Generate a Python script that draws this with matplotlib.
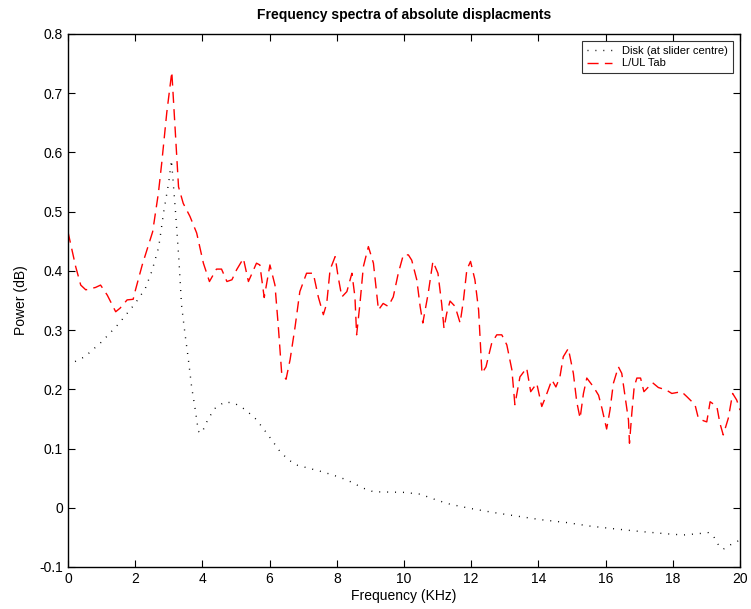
import matplotlib
matplotlib.use("Agg")
import matplotlib.pyplot as plt

plt.rcParams['font.family'] = ['Liberation Sans', 'DejaVu Sans']
plt.rcParams['axes.unicode_minus'] = False

# Disk (at slider centre) - black dotted
disk_x = [0.0, 0.5, 1.0, 1.5, 2.0, 2.3, 2.5, 2.7, 2.85, 3.0, 3.08, 3.2, 3.3, 3.38, 3.48, 3.58,
          3.68, 3.79, 3.88, 3.98, 4.18, 4.38, 4.67, 4.97, 5.27, 5.57, 5.81, 6.07, 6.31, 6.56,
          6.81, 7.15, 7.55, 7.9, 8.3, 8.79, 9.09, 9.98, 10.48, 10.97, 11.37, 11.96, 12.66,
          13.35, 14.05, 14.84, 15.54, 16.33, 17.02, 17.82, 18.31, 18.71, 19.06, 19.21, 19.36,
          19.5, 19.7, 19.9, 20.0]
disk_y = [0.241, 0.255, 0.28, 0.31, 0.345, 0.37, 0.40, 0.44, 0.50, 0.55, 0.587, 0.50, 0.42,
          0.342, 0.295, 0.252, 0.204, 0.165, 0.129, 0.126, 0.151, 0.168, 0.179, 0.176, 0.166,
          0.151, 0.134, 0.114, 0.095, 0.081, 0.072, 0.067, 0.061, 0.055, 0.047, 0.033, 0.027,
          0.026, 0.023, 0.013, 0.006, -0.001, -0.008, -0.014, -0.02, -0.025, -0.031, -0.036,
          -0.04, -0.044, -0.046, -0.044, -0.042, -0.048, -0.063, -0.07, -0.063, -0.057, -0.055]

# L/UL Tab - red dashed
tab_x = [0.0, 0.23, 0.38, 0.53, 0.82, 0.97, 1.17, 1.42, 1.55, 1.76, 1.94, 2.01, 2.21, 2.32,
         2.52, 2.69, 2.79, 2.94, 3.09, 3.19, 3.29, 3.43, 3.63, 3.83, 4.03, 4.21, 4.42, 4.57,
         4.73, 4.88, 5.02, 5.22, 5.37, 5.61, 5.71, 5.84, 6.01, 6.16, 6.26, 6.36, 6.49, 6.61,
         6.76, 6.9, 7.1, 7.3, 7.45, 7.6, 7.7, 7.8, 7.95, 8.04, 8.15, 8.3, 8.45, 8.54, 8.59,
         8.69, 8.79, 8.94, 9.09, 9.24, 9.38, 9.53, 9.68, 9.83, 9.98, 10.13, 10.23, 10.38,
         10.48, 10.56, 10.72, 10.86, 11.01, 11.12, 11.19, 11.27, 11.37, 11.52, 11.67, 11.77,
         11.87, 11.98, 12.11, 12.22, 12.32, 12.44, 12.61, 12.76, 12.91, 13.06, 13.21, 13.3,
         13.45, 13.65, 13.77, 13.95, 14.1, 14.22, 14.4, 14.52, 14.64, 14.74, 14.89, 15.04,
         15.14, 15.24, 15.34, 15.44, 15.64, 15.79, 15.89, 16.03, 16.13, 16.23, 16.38, 16.48,
         16.58, 16.68, 16.71, 16.78, 16.85, 16.93, 17.04, 17.14, 17.24, 17.4, 17.57, 17.8,
         17.97, 18.26, 18.41, 18.66, 18.76, 18.91, 19.01, 19.11, 19.31, 19.4, 19.5, 19.65,
         19.78, 19.9, 20.0]
tab_y = [0.466, 0.407, 0.376, 0.368, 0.372, 0.376, 0.359, 0.331, 0.337, 0.351, 0.352, 0.368,
         0.41, 0.43, 0.466, 0.531, 0.582, 0.667, 0.736, 0.638, 0.542, 0.514, 0.492, 0.464,
         0.413, 0.382, 0.403, 0.403, 0.382, 0.385, 0.402, 0.421, 0.382, 0.413, 0.41, 0.355,
         0.41, 0.376, 0.306, 0.227, 0.217, 0.25, 0.306, 0.365, 0.396, 0.396, 0.356, 0.326,
         0.345, 0.402, 0.424, 0.39, 0.356, 0.365, 0.396, 0.356, 0.292, 0.345, 0.407, 0.441,
         0.413, 0.334, 0.345, 0.34, 0.356, 0.396, 0.427, 0.427, 0.418, 0.385, 0.34, 0.312,
         0.362, 0.416, 0.396, 0.345, 0.303, 0.328, 0.349, 0.34, 0.312, 0.351, 0.402, 0.416,
         0.385, 0.334, 0.227, 0.238, 0.278, 0.292, 0.292, 0.275, 0.233, 0.174, 0.221, 0.236,
         0.196, 0.21, 0.171, 0.188, 0.216, 0.204, 0.221, 0.255, 0.269, 0.227, 0.179, 0.151,
         0.193, 0.219, 0.204, 0.19, 0.168, 0.133, 0.165, 0.21, 0.238, 0.227, 0.188, 0.148,
         0.109, 0.16, 0.204, 0.219, 0.219, 0.196, 0.202, 0.211, 0.203, 0.199, 0.193, 0.196,
         0.188, 0.174, 0.151, 0.147, 0.145, 0.179, 0.171, 0.143, 0.123, 0.151, 0.193, 0.182,
         0.165]

x_ticks = [0, 2, 4, 6, 8, 10, 12, 14, 16, 18, 20]
y_ticks = [-0.1, 0.0, 0.1, 0.2, 0.3, 0.4, 0.5, 0.6, 0.7, 0.8]
y_tick_labels = ["-0.1", "0", "0.1", "0.2", "0.3", "0.4", "0.5", "0.6", "0.7", "0.8"]

fig = plt.figure(figsize=(7.51, 6.09), dpi=100)
ax = fig.add_axes([0.0905, 0.069, 0.8949, 0.8752])

ax.plot(disk_x, disk_y, color='black', linestyle=(0, (0.7, 5.0)), linewidth=1.0,
        label='Disk (at slider centre)')
ax.plot(tab_x, tab_y, color='red', linestyle=(0, (8.0, 4.5)), linewidth=1.0,
        label='L/UL Tab')

ax.set_xlim(0, 20)
ax.set_ylim(-0.1, 0.8)
ax.set_xticks(x_ticks)
ax.set_yticks(y_ticks)
ax.set_yticklabels(y_tick_labels)
ax.tick_params(direction='in', top=True, right=True, labelsize=10, length=5, width=0.8)
for s in ax.spines.values():
    s.set_linewidth(1.0)

ax.set_xlabel('Frequency (KHz)', fontsize=10, labelpad=2)
ax.set_ylabel('Power (dB)', fontsize=10, labelpad=8)
ax.set_title('Frequency spectra of absolute displacments', fontsize=10, fontweight='bold', pad=11)

leg = ax.legend(loc='upper right', fontsize=8, frameon=True, fancybox=False,
                edgecolor='black', handlelength=2.3, borderpad=0.45, labelspacing=0.25,
                handletextpad=0.9, borderaxespad=0.6)
leg.get_frame().set_linewidth(0.8)

fig.savefig('out.png', dpi=100)
